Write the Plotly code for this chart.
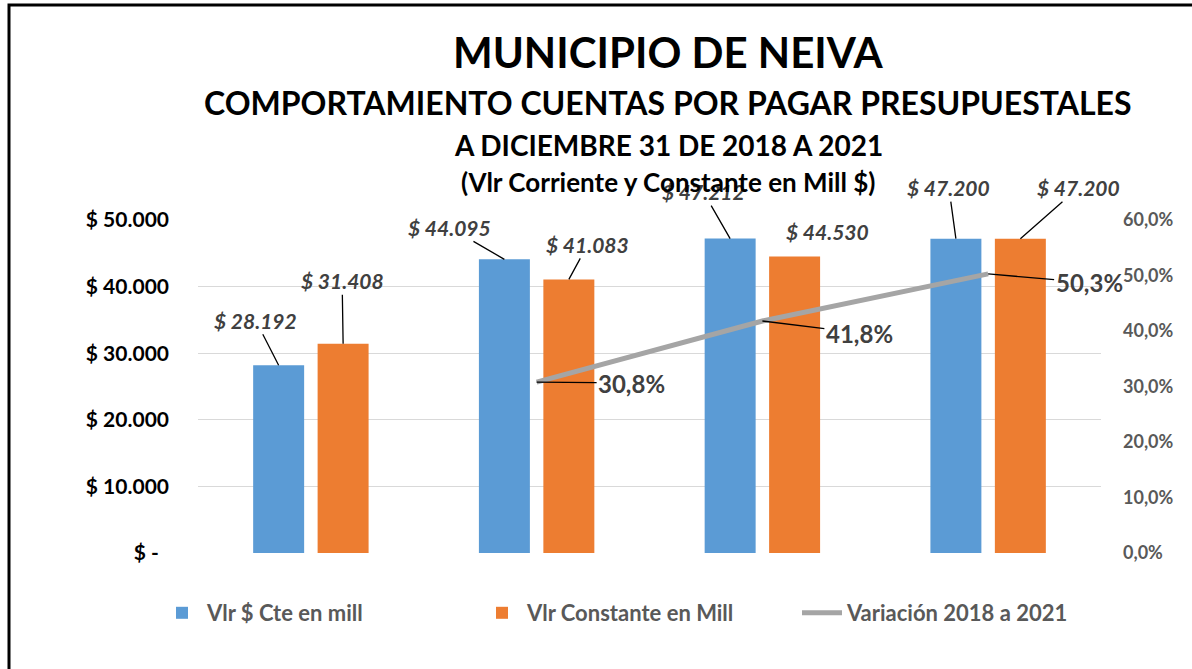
import plotly.graph_objects as go

# ---- data ----
categories = ["2018", "2019", "2020", "2021"]
vlr_corriente = [28192, 44095, 47212, 47200]
vlr_constante = [31408, 41083, 44530, 47200]
variacion = [None, 0.308, 0.418, 0.503]

left_tickvals = [0, 10000, 20000, 30000, 40000, 50000]
left_ticktext = ["$ -  ", "$ 10.000", "$ 20.000", "$ 30.000", "$ 40.000", "$ 50.000"]
right_tickvals = [0, 0.1, 0.2, 0.3, 0.4, 0.5, 0.6]

BLUE = "#5B9BD5"
ORANGE = "#ED7D31"
GRAY = "#A5A5A5"
LABEL = "#404040"
FONT = "Lato, Carlito, Liberation Sans, sans-serif"

W, H = 1192, 669
L, R, T, B = 198, 91, 220, 116
PW, PH = W - L - R, H - T - B


def px(xp):
    return (xp - L) / PW


def py(yp):
    return (H - B - yp) / PH


fig = go.Figure()
fig.add_bar(x=categories, y=vlr_corriente, name="Vlr $ Cte en mill",
            marker=dict(color=BLUE, line=dict(width=0)), yaxis="y")
fig.add_bar(x=categories, y=vlr_constante, name="Vlr Constante en Mill",
            marker=dict(color=ORANGE, line=dict(width=0)), yaxis="y")
fig.add_scatter(x=categories, y=variacion, name="Variación 2018 a 2021",
                mode="lines", line=dict(color=GRAY, width=5), yaxis="y2",
                connectgaps=False)

ann = []
OFF = 32.25
bar_label_pos = {
    (0, 0): (-23, -45),
    (1, 0): (-1, -63),
    (0, 1): (-55, -32),
    (1, 1): (19, -35),
    (0, 2): (-27, -47),
    (0, 3): (-7, -51),
    (1, 3): (58, -51),
}
series = [vlr_corriente, vlr_constante]
for s, vals in enumerate(series):
    for i, v in enumerate(vals):
        txt = "$ " + f"{v:,}".replace(",", ".")
        shift = -OFF if s == 0 else OFF
        font = dict(family=FONT, size=21, color=LABEL, style="italic", weight="bold")
        if (s, i) in bar_label_pos:
            ax, ay = bar_label_pos[(s, i)]
            ann.append(dict(x=i, y=v, xref="x", yref="y", xshift=shift,
                            text=txt, showarrow=True, arrowhead=0, arrowwidth=1.3,
                            arrowcolor="black", ax=ax, ay=ay, standoff=0, font=font))
        else:
            ann.append(dict(x=i, y=v, xref="x", yref="y",
                            xshift=shift + 33, yshift=25, text=txt, showarrow=False,
                            font=font))

line_label_pos = {1: (95, 1), 2: (97, 12), 3: (101, 9)}
for i, v in enumerate(variacion):
    if v is None:
        continue
    ax, ay = line_label_pos[i]
    ann.append(dict(x=i, y=v, xref="x", yref="y2",
                    text=f"{v*100:.1f}%".replace(".", ","), showarrow=True,
                    arrowhead=0, arrowwidth=1.3, arrowcolor="black",
                    ax=ax, ay=ay, standoff=0,
                    font=dict(family=FONT, size=24, color=LABEL, weight="bold")))

titles = [
    ("MUNICIPIO DE NEIVA", 42, 52),
    ("COMPORTAMIENTO CUENTAS POR PAGAR PRESUPUESTALES", 32, 102),
    ("A DICIEMBRE 31 DE 2018 A 2021", 28, 145),
    ("(Vlr Corriente y Constante en Mill $)", 26, 182),
]
for t, size, ypix in titles:
    ann.append(dict(x=px(668), y=py(ypix), xref="paper", yref="paper",
                    xanchor="center", yanchor="middle", text=t, showarrow=False,
                    font=dict(family=FONT, size=size, color="black", weight="bold")))

fig.update_layout(
    width=W, height=H,
    margin=dict(l=L, r=R, t=T, b=B, autoexpand=False),
    paper_bgcolor="white", plot_bgcolor="white",
    separators=",.",
    barmode="group", bargap=0.429, bargroupgap=0.209,
    font=dict(family=FONT),
    xaxis=dict(type="category", range=[-0.5, 3.5], showticklabels=False,
               showgrid=False, zeroline=False, showline=False, ticks=""),
    yaxis=dict(range=[0, 50000], tickvals=left_tickvals, ticktext=left_ticktext,
               showgrid=True, gridcolor="#D9D9D9", gridwidth=1, zeroline=False,
               showline=False, ticks="", ticklabelstandoff=28,
               tickfont=dict(family=FONT, size=21, color="black", weight="bold")),
    yaxis2=dict(range=[0, 0.6], tickvals=right_tickvals, tickformat=".1%",
                overlaying="y", side="right", showgrid=False, zeroline=False,
                showline=False, ticks="", ticklabelstandoff=21,
                tickfont=dict(family=FONT, size=18, color="#595959", weight="bold")),
    showlegend=True,
    legend=dict(orientation="h", x=px(157), xanchor="left", y=py(613),
                yanchor="middle", font=dict(family=FONT, size=22, color="#595959",
                                            weight="bold"),
                entrywidth=265, itemwidth=40, traceorder="normal",
                bgcolor="rgba(0,0,0,0)"),
    annotations=ann,
    shapes=[dict(type="path", xref="paper", yref="paper",
                 path=f"M {px(9)} {py(669)} L {px(9)} {py(5)} L {px(1192)} {py(5)}",
                 line=dict(color="black", width=3), layer="above")],
)

fig.write_html("out.html", config={"displayModeBar": False},
               post_script="document.body.style.margin='0';document.body.style.overflow='hidden';")
